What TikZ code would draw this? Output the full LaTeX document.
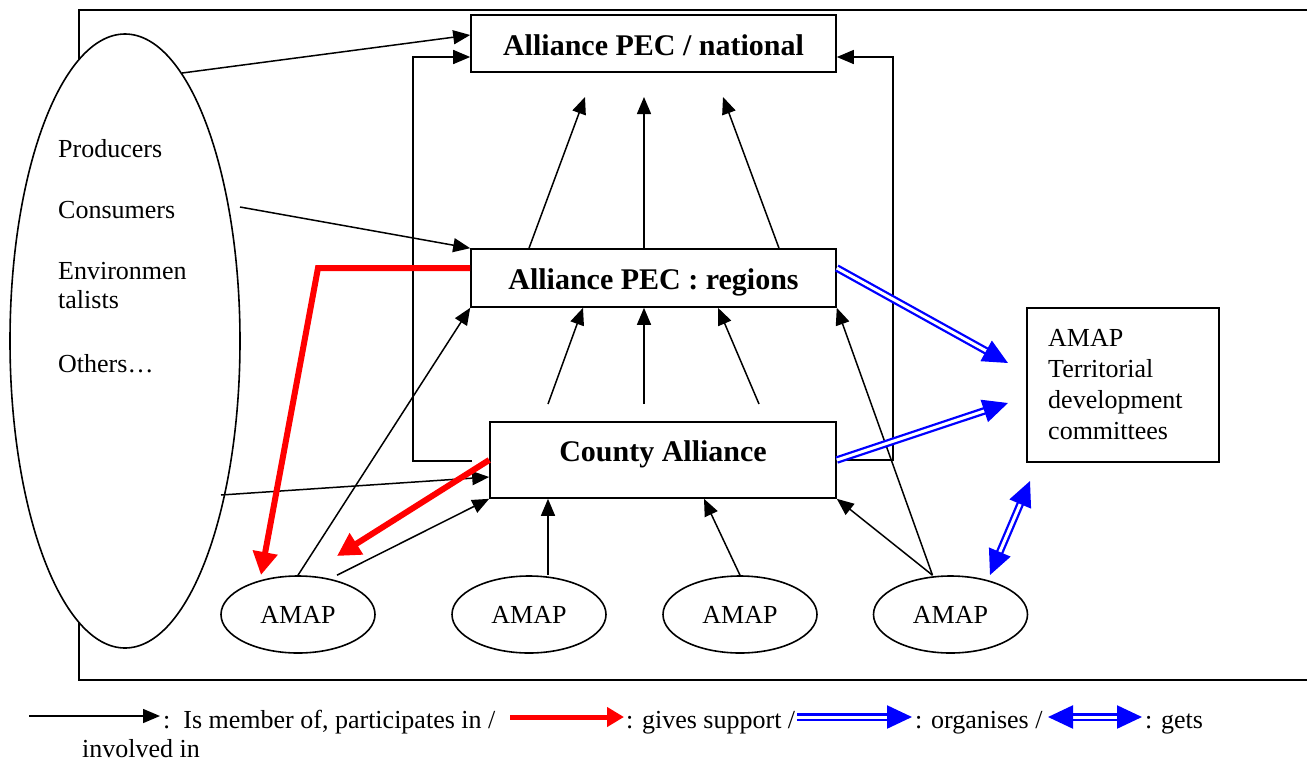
\documentclass[tikz,border=0pt]{standalone}
\usepackage{fontspec}
\setmainfont{Liberation Serif}
\usetikzlibrary{shapes.geometric,arrows.meta,calc}
\begin{document}
\begin{tikzpicture}[x=1pt,y=-1pt,
  box/.style={draw, line width=1.6pt, rectangle, inner sep=0pt, text height=20pt, text depth=0pt, font=\fontsize{30}{36}\selectfont\bfseries},
  amap/.style={draw, ellipse, fill=white, line width=1.6pt, minimum width=154pt, minimum height=77pt, inner sep=0pt, font=\fontsize{26}{31}\selectfont},
  txt/.style={font=\fontsize{26}{31}\selectfont, inner sep=0pt, anchor=base west},
  mem/.style={line width=1.5pt, -{Triangle[length=17pt,width=14pt]}},
  support/.style={red, line width=6pt, -{Triangle[length=23pt,width=24pt]}},
  org/.style={blue, double=white, double distance=3pt, line width=2.3pt, -{Triangle[length=25pt,width=23pt,fill=blue]}},
  orgboth/.style={blue, double=white, double distance=3pt, line width=2.3pt, {Triangle[length=25pt,width=23pt,fill=blue]}-{Triangle[length=25pt,width=23pt,fill=blue]}}
]
\useasboundingbox (0,0) rectangle (1307,764);
% frame
\draw[line width=1.6pt] (1307,10) -- (79,10) -- (79,680) -- (1307,680);
% big ellipse
\node[draw, ellipse, fill=white, line width=1.6pt, minimum width=230pt, minimum height=614pt, inner sep=0pt] (pop) at (125,341) {};
\node[txt] (prod) at (58,157) {Producers};
\node[txt] (cons) at (58,218) {Consumers};
\node[txt] (env1) at (58,279) {Environmen};
\node[txt] (env2) at (58,308) {talists};
\node[txt] (oth) at (58,372) {Others…};

% boxes
\node[box, minimum width=365pt, minimum height=57pt] (nat) at (653.5,43.5) {\raisebox{-1.5pt}{Alliance PEC / national}};
\node[box, minimum width=365pt, minimum height=58pt] (reg) at (653.5,278) {\raisebox{-1pt}{Alliance PEC : regions}};
\node[box, minimum width=346pt, minimum height=76pt] (cty) at (663,460) {\raisebox{9pt}{County Alliance}};
\node[draw, line width=1.6pt, rectangle, minimum width=192pt, minimum height=154pt, inner sep=0pt] (terr) at (1123,385) {};
\node[inner sep=0pt, anchor=north west, text width=160pt, align=left, font=\fontsize{26}{31}\selectfont] (terrtxt) at (1048,329) {AMAP\\Territorial\\development\\committees};

% AMAPs
\node[amap] (a1) at (298,614.5) {AMAP};
\node[amap] (a2) at (529,614.5) {AMAP};
\node[amap] (a3) at (740,614.5) {AMAP};
\node[amap] (a4) at (950.5,614.5) {AMAP};

% free coordinates
\coordinate (n1) at (585,97);
\coordinate (n2) at (644,97);
\coordinate (n3) at (723,97);
\coordinate (c1) at (548,404);
\coordinate (c2) at (644,404);
\coordinate (c3) at (759,404);
\coordinate (lb) at (472,461);
\coordinate (lbc) at (413,461);
\coordinate (lbt) at (413,57);
\coordinate (rbc) at (893,460);
\coordinate (rbt) at (893,57);
\coordinate (consout) at (240,207);
\coordinate (othout) at (221,495);
\coordinate (redbend) at (318,268);
\coordinate (redtip1) at (261,575);
\coordinate (redtip2) at (337,556);
\coordinate (bt1) at (1008,363);
\coordinate (bt2) at (1008,403);
\coordinate (bb1) at (990,575);
\coordinate (bb2) at (1030,481);

% regions -> national
\draw[mem] ([xshift=-124.5pt]reg.north) -- (n1);
\draw[mem] ([xshift=-9.5pt]reg.north) -- (n2);
\draw[mem] ([xshift=125.5pt]reg.north) -- (n3);
% county -> regions
\draw[mem] (c1) -- ([xshift=-70.5pt]reg.south);
\draw[mem] (c2) -- ([xshift=-9.5pt]reg.south);
\draw[mem] (c3) -- ([xshift=64.5pt]reg.south);
% brackets
\draw[mem] (lb) -- (lbc) -- (lbt) -- ([yshift=-13.5pt]nat.west);
\draw[mem] (cty.east) -- (rbc) -- (rbt) -- ([yshift=-13.5pt]nat.east);
% population ellipse
\draw[mem] (pop.78) -- ([yshift=8.5pt]nat.west);
\draw[mem] (consout) -- (reg.north west);
\draw[mem] (othout) -- ([yshift=-17pt]cty.west);
% AMAPs
\draw[mem] (a1.north) -- (reg.south west);
\draw[mem] ([xshift=39pt]a1.north) -- (cty.south west);
\draw[mem] ([xshift=19pt]a2.north) -- ([xshift=-115pt]cty.south);
\draw[mem] (a3.north) -- ([xshift=41pt]cty.south);
\draw[mem] ([xshift=-18pt]a4.north) -- (cty.south east);
\draw[mem] ([xshift=-18pt]a4.north) -- (reg.south east);
% support
\draw[support] ([yshift=10pt]reg.west) -- (redbend) -- (redtip1);
\draw[support] (cty.west) -- (redtip2);
% organise
\draw[org] ([yshift=10pt]reg.east) -- (bt1);
\draw[org] (cty.east) -- (bt2);
\draw[orgboth] (bb1) -- (bb2);

% legend
\coordinate (l1a) at (29,716);
\coordinate (l1b) at (160,716);
\coordinate (l2a) at (510,717);
\coordinate (l2b) at (624,717);
\coordinate (l3a) at (797,717);
\coordinate (l3b) at (912,717);
\coordinate (l4a) at (1048,717);
\coordinate (l4b) at (1142,717);
\draw[mem] (l1a) -- (l1b);
\draw[red, line width=5pt, -{Triangle[length=17pt,width=19pt]}] (l2a) -- (l2b);
\draw[org] (l3a) -- (l3b);
\draw[orgboth] (l4a) -- (l4b);
\node[txt] (lt1) at (163,728) {:\ \ Is member of, participates in /};
\node[txt] (lt2) at (626,728) {: gives support /};
\node[txt] (lt3) at (915,728) {: organises /};
\node[txt] (lt4) at (1145,728) {: gets};
\node[txt] (lt5) at (82,757) {involved in};
\end{tikzpicture}
\end{document}
